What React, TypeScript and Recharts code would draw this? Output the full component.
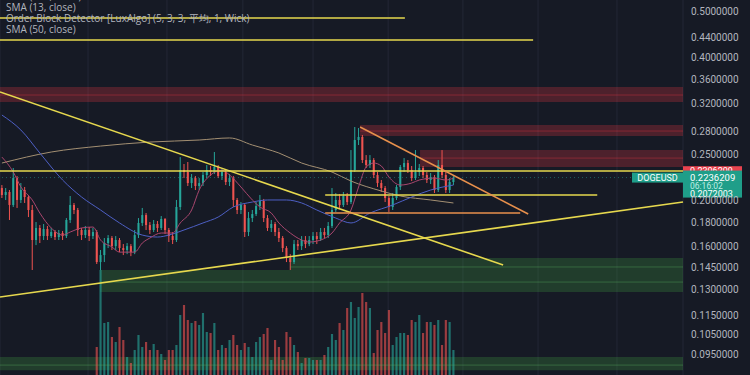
import React from 'react';
import { ComposedChart, Bar, Line, XAxis, YAxis, CartesianGrid, ReferenceLine, ReferenceArea } from 'recharts';

// DOGEUSD candles (open = previous close)
const FIRST_OPEN = 0.2126;
const closes = [
  0.2056, 0.2086, 0.1959, 0.2231, 0.2007, 0.2106, 0.2036, 0.1912, 0.1654, 0.1753,
  0.1686, 0.1744, 0.1686, 0.1719, 0.1678, 0.1711, 0.1686, 0.1822, 0.1959, 0.1912,
  0.1736, 0.1694, 0.1736, 0.1686, 0.1719, 0.1487, 0.1538, 0.163, 0.167, 0.1606,
  0.1654, 0.1591, 0.1576, 0.1606, 0.156, 0.1694, 0.1796, 0.1866, 0.1778, 0.1736,
  0.1787, 0.1753, 0.1831, 0.1736, 0.1686, 0.1654, 0.194, 0.2319, 0.2297, 0.2178,
  0.2231, 0.2147, 0.2178, 0.2264, 0.2319, 0.2297, 0.2353, 0.2253, 0.2297, 0.2189,
  0.2231, 0.2007, 0.1912, 0.1959, 0.1719, 0.1839, 0.1875, 0.1949, 0.1997, 0.1839,
  0.1753, 0.1787, 0.1719, 0.167, 0.1591, 0.1516, 0.1487, 0.1622, 0.1606, 0.1654,
  0.1622, 0.1654, 0.1686, 0.1662, 0.1719, 0.1694, 0.177, 0.1912, 0.2007, 0.1959,
  0.2046, 0.1987, 0.2319, 0.2681, 0.2721, 0.2434, 0.2376, 0.2434, 0.2264, 0.2178,
  0.2126, 0.2026, 0.194, 0.2026, 0.2137, 0.2353, 0.2399, 0.2319, 0.2231, 0.2297,
  0.2342, 0.2264, 0.221, 0.2242, 0.2106, 0.2376, 0.2264, 0.2106, 0.2189, 0.2236,
];
const highs = [
  0.2157, 0.2126, 0.2106, 0.2342, 0.2253, 0.2178, 0.2137, 0.2056, 0.1959, 0.1804,
  0.1778, 0.1787, 0.177, 0.1753, 0.1736, 0.1736, 0.1728, 0.1839, 0.2046, 0.1978,
  0.1931, 0.1753, 0.177, 0.1761, 0.1753, 0.1736, 0.1576, 0.167, 0.1694, 0.1686,
  0.1686, 0.167, 0.1622, 0.163, 0.1622, 0.1736, 0.1839, 0.1931, 0.1884, 0.1804,
  0.1822, 0.1813, 0.1857, 0.1839, 0.1753, 0.1719, 0.2007, 0.2469, 0.2388, 0.2411,
  0.2275, 0.2253, 0.2231, 0.2297, 0.2376, 0.2365, 0.253, 0.2376, 0.2331, 0.2319,
  0.2275, 0.2253, 0.2026, 0.1987, 0.1968, 0.1894, 0.1912, 0.1987, 0.2056, 0.2017,
  0.1866, 0.1822, 0.1804, 0.1753, 0.1686, 0.1606, 0.1545, 0.1654, 0.1654, 0.1686,
  0.1686, 0.1686, 0.1719, 0.1719, 0.1753, 0.1753, 0.1804, 0.2126, 0.2076, 0.2066,
  0.2086, 0.2076, 0.2554, 0.2855, 0.2841, 0.2747, 0.2493, 0.2493, 0.2457, 0.2297,
  0.221, 0.2147, 0.2046, 0.2076, 0.2157, 0.2376, 0.2457, 0.2434, 0.2365, 0.2554,
  0.2388, 0.2365, 0.2297, 0.2286, 0.2264, 0.2434, 0.2554, 0.2297, 0.2231, 0.2264,
];
const lows = [
  0.2026, 0.2007, 0.1822, 0.194, 0.1931, 0.1978, 0.1978, 0.1848, 0.1431, 0.1614,
  0.163, 0.1654, 0.1654, 0.167, 0.1654, 0.1654, 0.1654, 0.167, 0.1796, 0.1875,
  0.1686, 0.1654, 0.167, 0.1646, 0.1662, 0.1473, 0.1431, 0.1487, 0.1591, 0.1576,
  0.1576, 0.156, 0.1538, 0.1545, 0.153, 0.1545, 0.167, 0.177, 0.1736, 0.1703,
  0.1719, 0.1719, 0.1736, 0.1703, 0.1638, 0.1622, 0.1638, 0.1912, 0.2231, 0.2147,
  0.2126, 0.2106, 0.2106, 0.2147, 0.2231, 0.2253, 0.2275, 0.2231, 0.221, 0.2157,
  0.2147, 0.194, 0.1875, 0.1875, 0.1678, 0.1686, 0.1804, 0.1857, 0.1912, 0.1804,
  0.1728, 0.1719, 0.1686, 0.1638, 0.156, 0.1487, 0.1431, 0.1473, 0.1576, 0.1576,
  0.1591, 0.1606, 0.1622, 0.1622, 0.1646, 0.167, 0.167, 0.1753, 0.1894, 0.1931,
  0.194, 0.1959, 0.1968, 0.2297, 0.2617, 0.2399, 0.2342, 0.2342, 0.2231, 0.2137,
  0.2086, 0.1987, 0.1894, 0.1912, 0.2007, 0.2106, 0.2297, 0.2286, 0.2199, 0.221,
  0.2253, 0.2231, 0.2178, 0.2168, 0.2076, 0.2086, 0.2231, 0.2076, 0.2076, 0.2157,
];

// volume (millions) only shown from candle 25 on
const VOLUME_START = 25;
const volumes = [
  28, 105, 52, 53, 38, 33, 48, 35, 18, 12,
  25, 40, 28, 33, 25, 31, 25, 21, 15, 25,
  25, 30, 60, 70, 55, 52, 54, 50, 62, 43,
  42, 52, 25, 30, 27, 35, 40, 30, 25, 32,
  28, 18, 33, 38, 41, 47, 15, 35, 28, 15,
  43, 38, 30, 23, 12, 17, 17, 15, 15, 15,
  20, 28, 41, 35, 52, 45, 67, 73, 57, 68,
  82, 73, 67, 22, 45, 53, 42, 65, 30, 38,
  42, 42, 40, 55, 53, 60, 42, 53, 53, 50,
  55, 30, 55, 53, 25,
];

// moving averages, [candle index, price]
const sma13Points = [
  [0, 0.2469], [3, 0.2297], [5, 0.2137], [8, 0.2007], [10, 0.1884], [13, 0.1753], [16, 0.1694],
  [18, 0.1719], [21, 0.1753], [24, 0.1761], [26, 0.1654], [29, 0.1599], [31, 0.156], [35, 0.156],
  [37, 0.163], [39, 0.167], [42, 0.1711], [45, 0.1711], [47, 0.1796], [50, 0.1912], [52, 0.2106],
  [55, 0.2264], [58, 0.2319], [60, 0.2264], [63, 0.2137], [66, 0.2007], [68, 0.194], [71, 0.1884],
  [73, 0.1796], [76, 0.1711], [79, 0.1654], [81, 0.1638], [84, 0.1654], [87, 0.1711], [89, 0.1796],
  [92, 0.1912], [94, 0.2137], [96, 0.2353], [98, 0.2399], [100, 0.2365], [102, 0.2242], [105, 0.2157],
  [108, 0.2178], [110, 0.221], [114, 0.2231], [117, 0.221], [119, 0.2231],
];
const sma50Points = [
  [0, 0.3025], [5, 0.2814], [10, 0.2518], [16, 0.221], [21, 0.2036], [26, 0.1912], [31, 0.1796],
  [37, 0.1694], [41, 0.1678], [44, 0.1694], [48, 0.1736], [53, 0.1796], [57, 0.1848], [61, 0.194],
  [66, 0.1987], [70, 0.2007], [75, 0.2007], [79, 0.1978], [83, 0.1912], [88, 0.1839], [92, 0.1796],
  [97, 0.1884], [103, 0.1959], [108, 0.2036], [113, 0.2106], [119, 0.2157],
];
const sma200Points = [
  [0, 0.2399], [13, 0.253], [26, 0.2604], [39, 0.2655], [52, 0.2681], [60, 0.2708], [66, 0.2617],
  [73, 0.2518], [79, 0.2399], [87, 0.2297], [92, 0.2199], [100, 0.2096], [105, 0.2046], [113, 0.2007],
  [119, 0.1978],
];

// drawings, in bar units on the time axis: [[t1, p1], [t2, p2]]
const yellowLines = [
  [[0, 0.4834], [106.7, 0.4834]],
  [[0, 0.4346], [140.5, 0.4346]],
  [[0, 0.2308], [180, 0.2308]],
  [[85.7, 0.2056], [157.4, 0.2056]],
  [[0, 0.3381], [132.6, 0.1466]],
  [[0, 0.1256], [180, 0.1987]],
];
const orangeLines = [
  [[85.7, 0.1884], [137.1, 0.1884]],
  [[94.9, 0.2855], [139.2, 0.1875]],
];
// order blocks: [t1, t2, top, bottom, mid]
const bearishBlocks = [
  [0, 180, 0.3464, 0.3222, 0.3332],
  [94.9, 180, 0.2883, 0.2734, 0.28],
  [110.7, 180, 0.2554, 0.2353, 0.2457],
];
const bullishBlocks = [
  [76.4, 180, 0.1516, 0.1431, 0.1452],
  [26.4, 180, 0.1431, 0.1287, 0.135],
  [0, 180, 0.094, 0.0882, 0.0904],
];

const priceTicks = [0.5, 0.44, 0.4, 0.36, 0.32, 0.28, 0.25, 0.2, 0.18, 0.16, 0.145, 0.13, 0.115, 0.105, 0.095];
const timeGrid = [23.2, 44, 64, 82.5, 102.3, 122, 141.8, 162.6];
const lastPrice = 0.2236209;
const bidPrice = 0.2306209;
const lowTag = 0.2072003;
const countdown = '06:16:02';

const SLOTS = 180;
const UP = '#26a69a';
const DOWN = '#ef5350';
const TAG_GREEN = '#1f9e89';
const YELLOW = '#e6d84e';
const ORANGE = '#e8904c';
const TEXT = '#b2b5be';

const rows = Array.from({ length: SLOTS }, (_, i) => {
  const row: any = { i };
  if (i < closes.length) {
    row.open = i === 0 ? FIRST_OPEN : closes[i - 1];
    row.close = closes[i];
    row.high = highs[i];
    row.low = lows[i];
    row.range = [lows[i], highs[i]];
    if (i >= VOLUME_START) row.vol = volumes[i - VOLUME_START];
  }
  return row;
});
sma13Points.forEach(([i, v]) => (rows[i].sma13 = v));
sma50Points.forEach(([i, v]) => (rows[i].sma50 = v));
sma200Points.forEach(([i, v]) => (rows[i].sma200 = v));

function Candle(props: any) {
  const { x, y, width, height, payload } = props;
  if (!payload || payload.close == null || height == null) return <g />;
  const { open, close, high, low } = payload;
  const top = Math.min(y, y + height);
  const h = Math.abs(height);
  const span = Math.log(high) - Math.log(low);
  const py = (p: number) => top + (span > 0 ? ((Math.log(high) - Math.log(p)) / span) * h : 0);
  const cx = x + width / 2;
  const color = close >= open ? UP : DOWN;
  const bTop = py(Math.max(open, close));
  const bBot = py(Math.min(open, close));
  const bw = Math.max(1.6, width * 0.68);
  return (
    <g>
      <line x1={cx} x2={cx} y1={top} y2={top + h} stroke={color} strokeWidth={1} />
      <rect x={cx - bw / 2} y={bTop} width={bw} height={Math.max(1, bBot - bTop)} fill={color} />
    </g>
  );
}

function VolumeBar(props: any) {
  const { x, y, width, height, payload } = props;
  if (!payload || payload.vol == null || !height) return <g />;
  const color = payload.close >= payload.open ? UP : DOWN;
  const bw = Math.max(1.4, width * 0.72);
  return <rect x={x + width / 2 - bw / 2} y={y} width={bw} height={height} fill={color} fillOpacity={0.62} />;
}

function LastPriceTag(props: any) {
  const { viewBox } = props;
  if (!viewBox) return null;
  const x = viewBox.x + viewBox.width;
  const y = viewBox.y;
  return (
    <g fontFamily="Roboto, sans-serif">
      <rect x={x - 51} y={y - 5} width={51} height={10} fill={TAG_GREEN} />
      <text x={x - 25.5} y={y} dy="0.35em" textAnchor="middle" fill="#ffffff" fontSize={9}>DOGEUSD</text>
      <rect x={x} y={y - 7} width={59} height={27} fill={TAG_GREEN} />
      <text x={x + 7} y={y} dy="0.35em" fill="#ffffff" fontSize={9.5}>{lastPrice.toFixed(7)}</text>
      <text x={x + 7} y={y + 8.5} dy="0.35em" fill="#bfeee5" fontSize={8.5}>{countdown}</text>
      <text x={x + 7} y={y + 16.5} dy="0.35em" fill="#ffffff" fontSize={9}>{lowTag.toFixed(7)}</text>
    </g>
  );
}

function BidTag(props: any) {
  const { viewBox } = props;
  if (!viewBox) return null;
  const x = viewBox.x + viewBox.width;
  const y = viewBox.y;
  return (
    <g fontFamily="Roboto, sans-serif">
      <rect x={x} y={y - 5} width={59} height={10} fill="#e8434f" />
      <text x={x + 7} y={y} dy="0.35em" fill="#ffffff" fontSize={9}>{bidPrice.toFixed(7)}</text>
    </g>
  );
}

export default function App() {
  return (
    <div style={{ position: 'absolute', left: 0, top: 0, width: 750, height: 375, background: '#161a25', overflow: 'hidden' }}>
      <ComposedChart width={750} height={375} data={rows} margin={{ top: 0, right: 0, bottom: 0, left: 0 }}>
        <XAxis xAxisId="c" dataKey="i" hide />
        <XAxis xAxisId="v" dataKey="i" hide />
        <XAxis xAxisId="t" type="number" dataKey="t" domain={[0, SLOTS]} ticks={timeGrid} allowDataOverflow hide />
        <YAxis
          yAxisId="p"
          orientation="right"
          scale="log"
          domain={[0.08617, 0.5273]}
          allowDataOverflow
          ticks={priceTicks}
          tickFormatter={(v: number) => v.toFixed(7)}
          axisLine={false}
          tickLine={false}
          width={67}
          tick={{ fill: TEXT, fontSize: 10, fontFamily: 'Roboto, sans-serif' }}
        />
        <YAxis yAxisId="vol" domain={[0, 375]} hide />
        <CartesianGrid xAxisId="t" yAxisId="p" horizontal={false} stroke="#232736" />

        {bearishBlocks.map(([x1, x2, top, bottom, mid], k) => (
          <React.Fragment key={'b' + k}>
            <ReferenceArea xAxisId="t" yAxisId="p" x1={x1} x2={x2} y1={bottom} y2={top} fill="#f23645" fillOpacity={0.25} stroke="none" ifOverflow="hidden" />
            <ReferenceLine xAxisId="t" yAxisId="p" segment={[{ x: x1, y: mid }, { x: x2, y: mid }]} stroke="#f23645" strokeOpacity={0.35} />
          </React.Fragment>
        ))}
        {bullishBlocks.map(([x1, x2, top, bottom, mid], k) => (
          <React.Fragment key={'g' + k}>
            <ReferenceArea xAxisId="t" yAxisId="p" x1={x1} x2={x2} y1={bottom} y2={top} fill="#3f9a42" fillOpacity={0.28} stroke="none" ifOverflow="hidden" />
            <ReferenceLine xAxisId="t" yAxisId="p" segment={[{ x: x1, y: mid }, { x: x2, y: mid }]} stroke="#5fb764" strokeOpacity={0.35} />
          </React.Fragment>
        ))}

        <Bar xAxisId="v" yAxisId="vol" dataKey="vol" shape={VolumeBar} isAnimationActive={false} />

        <Line xAxisId="c" yAxisId="p" dataKey="sma200" type="monotone" connectNulls stroke="#a38f72" strokeWidth={1} dot={false} activeDot={false} isAnimationActive={false} />
        <Line xAxisId="c" yAxisId="p" dataKey="sma50" type="monotone" connectNulls stroke="#4d5fc4" strokeWidth={1} dot={false} activeDot={false} isAnimationActive={false} />
        <Line xAxisId="c" yAxisId="p" dataKey="sma13" type="monotone" connectNulls stroke="#a8466e" strokeWidth={1} dot={false} activeDot={false} isAnimationActive={false} />

        <ReferenceLine xAxisId="t" yAxisId="p" y={lastPrice} stroke={UP} strokeOpacity={0.5} strokeDasharray="1 3" />

        <Bar xAxisId="c" yAxisId="p" dataKey="range" shape={Candle} isAnimationActive={false} />

        {yellowLines.map(([a, b], k) => (
          <ReferenceLine key={'y' + k} xAxisId="t" yAxisId="p" segment={[{ x: a[0], y: a[1] }, { x: b[0], y: b[1] }]} stroke={YELLOW} strokeWidth={1.6} />
        ))}
        {orangeLines.map(([a, b], k) => (
          <ReferenceLine key={'o' + k} xAxisId="t" yAxisId="p" segment={[{ x: a[0], y: a[1] }, { x: b[0], y: b[1] }]} stroke={ORANGE} strokeWidth={1.6} />
        ))}

        <ReferenceLine xAxisId="t" yAxisId="p" y={bidPrice} stroke="none" label={<BidTag />} />
        <ReferenceLine xAxisId="t" yAxisId="p" y={lastPrice} stroke="none" label={<LastPriceTag />} />
      </ComposedChart>
      <div
        style={{
          position: 'absolute',
          left: 6,
          top: -9.5,
          fontFamily: '"Open Sans", sans-serif',
          fontSize: 10,
          lineHeight: '11px',
          color: TEXT,
          whiteSpace: 'nowrap',
        }}
      >
        <div>SMA (200, close)</div>
        <div>SMA (13, close)</div>
        <div>Order Block Detector [LuxAlgo] (5, 3, 3, 平均, 1, Wick)</div>
        <div>SMA (50, close)</div>
      </div>
    </div>
  );
}
